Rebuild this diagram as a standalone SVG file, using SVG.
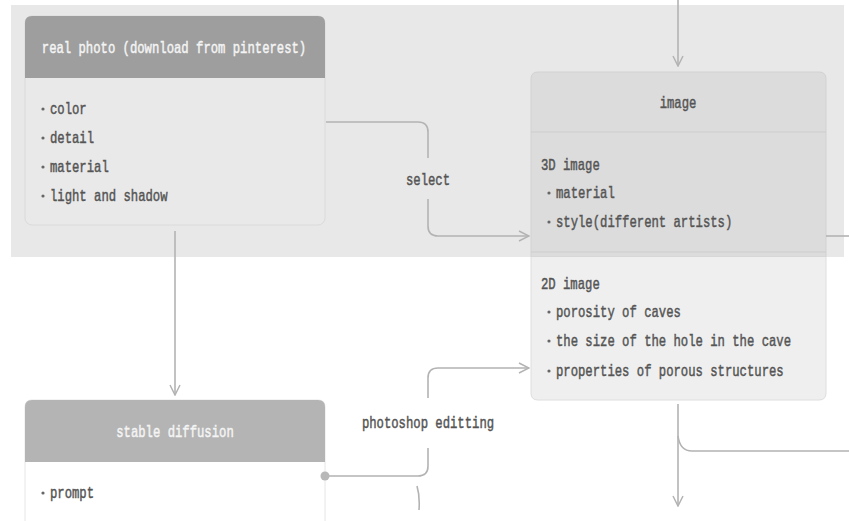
<svg xmlns="http://www.w3.org/2000/svg" width="849" height="521" viewBox="0 0 849 521">
<style>
  text { font-family: "Liberation Mono", "DejaVu Sans Mono", monospace; font-size: 12.25px; fill: #555; stroke: #555; stroke-width: 0.35; }
  .hd { fill: #f4f4f4; stroke: #f4f4f4; text-anchor: middle; }
  .hdk { text-anchor: middle; }
  .lbl { text-anchor: middle; }
  .edge { fill: none; stroke: #b3b3b3; stroke-width: 1.6; }
  .dot { fill: #b8b8b8; }
  .bul { fill: #666; }
</style>
<defs>
  <marker id="arr" viewBox="0 0 12 12" refX="11" refY="6" markerWidth="12" markerHeight="12" markerUnits="userSpaceOnUse" orient="auto">
    <path d="M1,1 L11,6 L1,11" fill="none" stroke="#b3b3b3" stroke-width="1.5"/>
  </marker>
</defs>
<rect width="849" height="521" fill="#ffffff"/>
<rect id="region" x="11" y="5" width="833" height="252" fill="#e8e8e8"/>

<g id="node-real-photo">
  <rect x="25" y="16" width="300" height="209" rx="7" fill="#e9e9e9" stroke="#dadada"/>
  <path d="M25,78 V23 Q25,16 32,16 H318 Q325,16 325,23 V78 Z" fill="#9e9e9e"/>
  <text class="hd" x="174" y="53" transform="matrix(1,0,0,1.4,0,-21.2)">real photo (download from pinterest)</text>
  <circle class="bul" cx="43" cy="109" r="1.6"/><text x="50" y="114" transform="matrix(1,0,0,1.4,0,-45.6)">color</text>
  <circle class="bul" cx="43" cy="138" r="1.6"/><text x="50" y="143" transform="matrix(1,0,0,1.4,0,-57.2)">detail</text>
  <circle class="bul" cx="43" cy="167" r="1.6"/><text x="50" y="172" transform="matrix(1,0,0,1.4,0,-68.8)">material</text>
  <circle class="bul" cx="43" cy="196" r="1.6"/><text x="50" y="201" transform="matrix(1,0,0,1.4,0,-80.4)">light and shadow</text>
</g>

<g id="node-image">
  <path d="M531,257 V79 Q531,72 538,72 H819 Q826,72 826,79 V257 Z" fill="#dcdcdc" stroke="#d2d2d2"/>
  <path d="M531,257 V393 Q531,400 538,400 H819 Q826,400 826,393 V257" fill="#efefef" stroke="#dedede"/>
  <line x1="531" y1="132" x2="826" y2="132" stroke="#cdcdcd"/>
  <line x1="531" y1="252" x2="826" y2="252" stroke="#cdcdcd"/>
  <text class="hdk" x="678" y="108" transform="matrix(1,0,0,1.4,0,-43.2)">image</text>
  <text x="541" y="170" transform="matrix(1,0,0,1.4,0,-68)">3D image</text>
  <circle class="bul" cx="549" cy="193" r="1.6"/><text x="556" y="198" transform="matrix(1,0,0,1.4,0,-79.2)">material</text>
  <circle class="bul" cx="549" cy="222" r="1.6"/><text x="556" y="227" transform="matrix(1,0,0,1.4,0,-90.8)">style(different artists)</text>
  <text x="541" y="289" transform="matrix(1,0,0,1.4,0,-115.6)">2D image</text>
  <circle class="bul" cx="549" cy="312" r="1.6"/><text x="556" y="317" transform="matrix(1,0,0,1.4,0,-126.8)">porosity of caves</text>
  <circle class="bul" cx="549" cy="341" r="1.6"/><text x="556" y="346" transform="matrix(1,0,0,1.4,0,-138.4)">the size of the hole in the cave</text>
  <circle class="bul" cx="549" cy="371" r="1.6"/><text x="556" y="376" transform="matrix(1,0,0,1.4,0,-150.4)">properties of porous structures</text>
</g>

<g id="node-stable-diffusion">
  <path d="M25,521 V407 Q25,400 32,400 H318 Q325,400 325,407 V521" fill="#ffffff" stroke="#e6e6e6"/>
  <path d="M25,462 V407 Q25,400 32,400 H318 Q325,400 325,407 V462 Z" fill="#b4b4b4"/>
  <text class="hd" x="175" y="437" transform="matrix(1,0,0,1.4,0,-174.8)">stable diffusion</text>
  <circle class="bul" cx="43" cy="493" r="1.6"/><text x="50" y="498" transform="matrix(1,0,0,1.4,0,-199.2)">prompt</text>
</g>

<g id="connectors">
  <path class="edge" d="M678,0 V66" marker-end="url(#arr)"/>
  <path class="edge" d="M326,122 H418 Q428,122 428,132 V158"/>
  <path class="edge" d="M428,199 V226 Q428,236 438,236 H529" marker-end="url(#arr)"/>
  <path class="edge" d="M175,231 V395" marker-end="url(#arr)"/>
  <path class="edge" d="M826,236 H849"/>
  <path class="edge" d="M329,476 H418 Q428,476 428,466 V448"/>
  <path class="edge" d="M428,398 V378 Q428,368 438,368 H529" marker-end="url(#arr)"/>
  <path class="edge" d="M678,404 V506" marker-end="url(#arr)"/>
  <path class="edge" d="M678,436 Q680,451 692,451 H849"/>
  <path class="edge" d="M417,486 Q420,496 419,510" stroke-width="1.2"/>
  <circle class="dot" cx="325" cy="476" r="4.5"/>
</g>

<g id="labels">
  <text class="lbl" x="428" y="185" transform="matrix(1,0,0,1.4,0,-74)">select</text>
  <text class="lbl" x="428" y="428" transform="matrix(1,0,0,1.4,0,-171.2)">photoshop editting</text>
</g>
</svg>
